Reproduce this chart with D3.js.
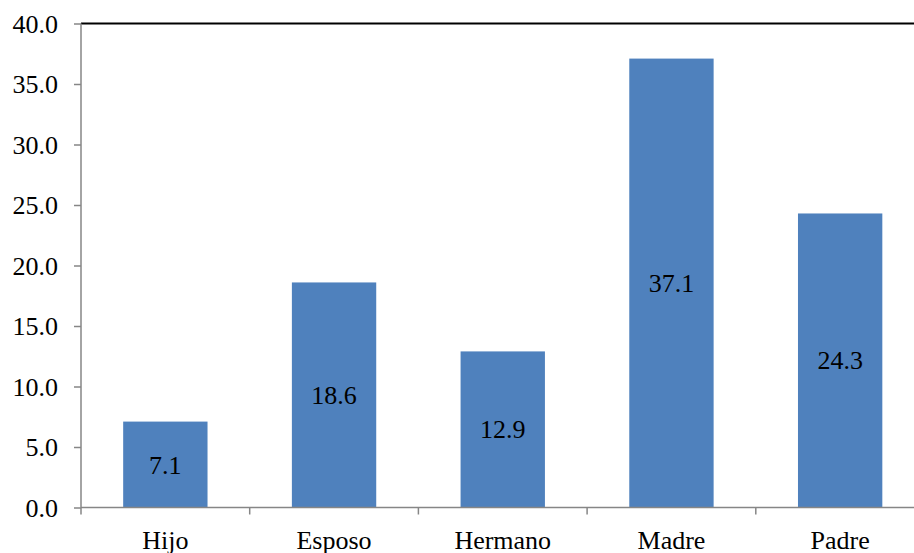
<!DOCTYPE html>
<html>
<head>
<meta charset="utf-8">
<script src="https://cdn.jsdelivr.net/npm/d3@7/dist/d3.min.js"></script>
<style>
  html, body { margin: 0; padding: 0; background: #fff; font-family: 'Liberation Serif', 'Times New Roman', serif; }
  svg { display: block; }
  svg text { font-family: 'Liberation Serif', 'Times New Roman', serif; }
</style>
</head>
<body>
<svg id="chart" width="914" height="553">
  <g id="plot"></g>
</svg>
<script>
const categories = ["Hijo", "Esposo", "Hermano", "Madre", "Padre"];
const values = [7.1, 18.6, 12.9, 37.1, 24.3];
const yTicks = [0, 5, 10, 15, 20, 25, 30, 35, 40];

const svg = d3.select("#plot");
const plotLeft = 81, plotRight = 924.5, plotTop = 23.5, plotBottom = 507.5;
const fontSize = 26;
const serif = "'Liberation Serif', 'Times New Roman', serif";

const x = d3.scaleBand().domain(categories).range([plotLeft, plotRight])
  .paddingInner(0.5).paddingOuter(0.25);
const y = d3.scaleLinear().domain([0, 40]).range([plotBottom, plotTop]);

const axisColor = "#868686";

// top border of the plot area
svg.append("line")
  .attr("x1", plotLeft).attr("x2", 914)
  .attr("y1", plotTop).attr("y2", plotTop)
  .attr("stroke", "#000").attr("stroke-width", 2);

// bars
svg.selectAll("rect.bar").data(values).join("rect")
  .attr("class", "bar")
  .attr("x", (d, i) => x(categories[i]))
  .attr("width", x.bandwidth())
  .attr("y", d => y(d))
  .attr("height", d => y(0) - y(d))
  .attr("fill", "#4F81BD");

// value labels centred in each bar
svg.selectAll("text.val").data(values).join("text")
  .attr("class", "val")
  .attr("x", (d, i) => x(categories[i]) + x.bandwidth() / 2)
  .attr("y", d => (y(d) + y(0)) / 2 + 9)
  .attr("text-anchor", "middle")
  .attr("font-family", serif)
  .attr("font-size", fontSize)
  .attr("fill", "#000")
  .text(d => d.toFixed(1));

// y axis
const yAxis = d3.axisLeft(y).tickValues(yTicks)
  .tickFormat(d3.format(".1f")).tickSize(7).tickPadding(16);
const gy = svg.append("g").attr("transform", `translate(${plotLeft},0)`).call(yAxis)
  .attr("font-family", serif).attr("font-size", fontSize);
gy.select(".domain").attr("stroke", axisColor).attr("stroke-width", 1.5)
  .attr("d", `M0,${plotTop}V${plotBottom}`);
gy.selectAll(".tick line").attr("stroke", axisColor).attr("stroke-width", 1.5);
gy.selectAll(".tick text")
  .attr("fill", "#000")
  .attr("dy", "0.33em");

// x axis with ticks on category boundaries
const gx = svg.append("g").attr("transform", `translate(0,${plotBottom})`);
gx.append("line")
  .attr("x1", plotLeft).attr("x2", 914)
  .attr("y1", 0).attr("y2", 0)
  .attr("stroke", axisColor).attr("stroke-width", 1.5);
const boundaries = categories.map(c => x(c) - x.step() * x.paddingInner() / 2);
gx.selectAll("line.tk").data(boundaries).join("line")
  .attr("class", "tk")
  .attr("x1", d => d).attr("x2", d => d)
  .attr("y1", 0).attr("y2", 7)
  .attr("stroke", axisColor).attr("stroke-width", 1.5);
gx.selectAll("text.cat").data(categories).join("text")
  .attr("class", "cat")
  .attr("x", d => x(d) + x.bandwidth() / 2)
  .attr("y", 41)
  .attr("text-anchor", "middle")
  .attr("font-family", serif)
  .attr("font-size", fontSize)
  .attr("fill", "#000")
  .text(d => d);
</script>
</body>
</html>
